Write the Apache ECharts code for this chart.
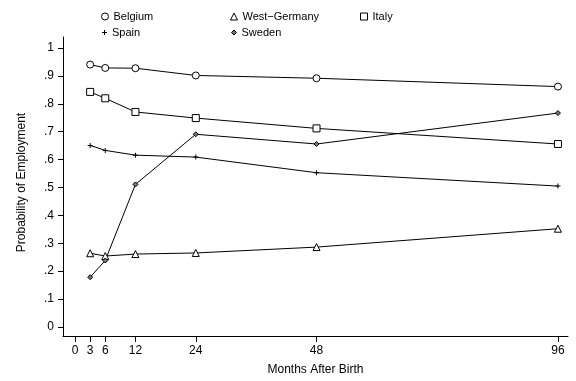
<!DOCTYPE html>
<html><head><meta charset="utf-8">
<script src="https://cdn.jsdelivr.net/npm/echarts@6/dist/echarts.min.js"></script>
<style>html,body{margin:0;padding:0;background:#fff}#c{width:576px;height:381px}</style>
</head><body><div id="c"></div>
<script>
var months = [3, 6, 12, 24, 48, 96];
var xTicks = [0, 3, 6, 12, 24, 48, 96];
var yTicks = [0, 0.1, 0.2, 0.3, 0.4, 0.5, 0.6, 0.7, 0.8, 0.9, 1];
var belgium = [0.941, 0.929, 0.928, 0.902, 0.892, 0.862];
var westGermany = [0.264, 0.254, 0.261, 0.265, 0.286, 0.352];
var italy = [0.843, 0.820, 0.771, 0.749, 0.712, 0.656];
var spain = [0.651, 0.633, 0.616, 0.609, 0.553, 0.505];
var sweden = [0.178, 0.238, 0.511, 0.691, 0.656, 0.767];

var FONT = 'Liberation Sans';
var plus = 'path://M2,0h1v2h2v1h-2v2h-1v-2h-2v-1h2z';
function pts(arr){ return months.map(function(m,i){ return [m, arr[i]]; }); }
function ser(name, arr, sym, size, fill, bw){
  return {name:name, type:'line', data:pts(arr), symbol:sym, symbolSize:size,
    showAllSymbol:true,
    lineStyle:{color:'#000', width:1},
    itemStyle:{color:fill, borderColor:'#000', borderWidth:bw},
    emphasis:{disabled:true}, z: 3};
}
function leg(name, sym, size, fill, bw, left, top){
  return {data:[{name:name, icon:sym, itemStyle:{color:fill, borderColor:'#000', borderWidth:bw}}],
    left:left, top:top, itemWidth:size, itemHeight:size, itemGap:6,
    textStyle:{fontFamily:FONT, fontSize:11, color:'#000'}, selectedMode:false};
}
var chart = echarts.init(document.getElementById('c'));
chart.setOption({
  animation:false,
  backgroundColor:'#fff',
  legend:[
    leg('Belgium','circle',7,'#fff',1,96,6),
    leg('West\u2212Germany','triangle',7,'#fff',1,225,6),
    leg('Italy','rect',7,'#fff',1,355,6),
    leg('Spain',plus,5,'#000',0,97,22),
    leg('Sweden','diamond',5,'#777',1,226,22)
  ],
  grid:{left:63, right:8, top:37, bottom:40, containLabel:false},
  xAxis:{type:'value', min:-2.4, max:98,
    name:'Months After Birth', nameLocation:'middle', nameGap:28,
    nameTextStyle:{fontFamily:FONT, fontSize:12, color:'#000'},
    axisLine:{show:true, onZero:false, lineStyle:{color:'#000', width:1}},
    axisTick:{show:true, length:6, customValues:xTicks, lineStyle:{color:'#000'}},
    axisLabel:{customValues:xTicks, fontFamily:FONT, fontSize:12, color:'#000', margin:9},
    splitLine:{show:false}},
  yAxis:{type:'value', min:-0.033, max:1.04,
    name:'Probability of Employment', nameLocation:'middle', nameGap:35, nameRotate:90,
    nameTextStyle:{fontFamily:FONT, fontSize:12, color:'#000', padding:[0,0,0,8]},
    axisLine:{show:true, onZero:false, lineStyle:{color:'#000', width:1}},
    axisTick:{show:true, length:5, customValues:yTicks, lineStyle:{color:'#000'}},
    axisLabel:{customValues:yTicks, fontFamily:FONT, fontSize:12, color:'#000', margin:9,
      formatter:function(v){ var r=Math.round(v*10); if(r===10) return '1'; if(r===0) return '0'; return '.'+r; }},
    splitLine:{show:false}},
  series:[
    ser('Belgium', belgium, 'circle', 7, '#fff', 1),
    ser('West\u2212Germany', westGermany, 'triangle', 7, '#fff', 1),
    ser('Italy', italy, 'rect', 7, '#fff', 1),
    ser('Spain', spain, plus, 5, '#000', 0),
    ser('Sweden', sweden, 'diamond', 5, '#777', 1)
  ]
});
</script></body></html>
